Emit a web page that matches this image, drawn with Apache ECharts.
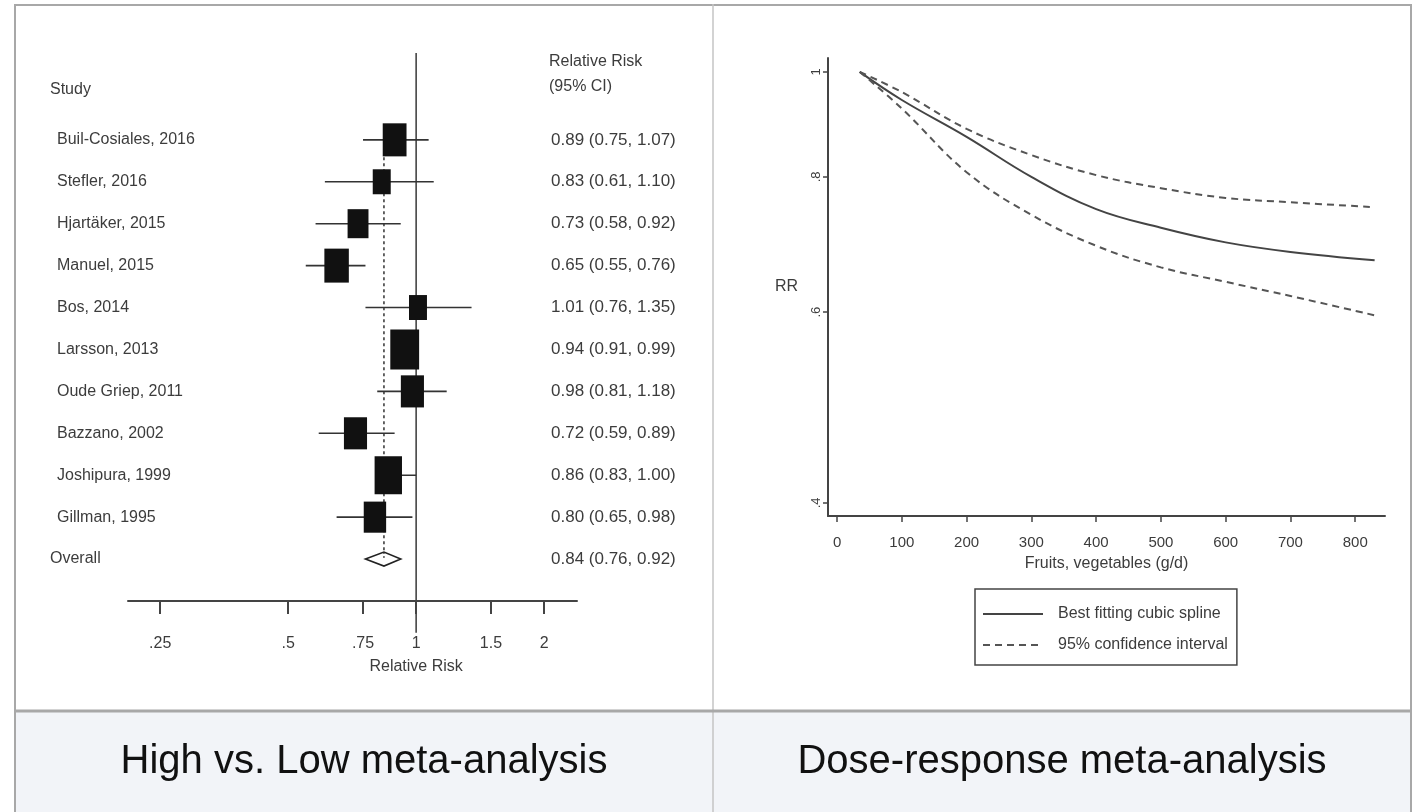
<!DOCTYPE html>
<html>
<head>
<meta charset="utf-8">
<title>Fruit and vegetable intake: high vs. low and dose-response</title>
<script src="https://cdn.jsdelivr.net/npm/echarts@6.0.0/dist/echarts.min.js"></script>
<style>
html, body { margin: 0; padding: 0; background: #fff; }
#main { width: 1420px; height: 812px; }
</style>
</head>
<body>
<div id="main"></div>
<script>
// ---- left panel: forest plot, high vs. low ----
var studies = ["Buil-Cosiales, 2016", "Stefler, 2016", "Hjartäker, 2015", "Manuel, 2015", "Bos, 2014",
  "Larsson, 2013", "Oude Griep, 2011", "Bazzano, 2002", "Joshipura, 1999", "Gillman, 1995"];
var rr      = [0.89, 0.83, 0.73, 0.65, 1.01, 0.94, 0.98, 0.72, 0.86, 0.80];
var ciLow   = [0.75, 0.61, 0.58, 0.55, 0.76, 0.91, 0.81, 0.59, 0.83, 0.65];
var ciHigh  = [1.07, 1.10, 0.92, 0.76, 1.35, 0.99, 1.18, 0.89, 1.00, 0.98];
var weights = [10.5, 6.0, 8.1, 11.1, 6.0, 15.4, 9.9, 9.9, 13.9, 9.3];   // % weight, drives box area
var overall = [0.84, 0.76, 0.92];
var rrTicks = [0.25, 0.5, 0.75, 1, 1.5, 2];
var rrTickLabels = [".25", ".5", ".75", "1", "1.5", "2"];

// ---- right panel: dose-response ----
var intake    = [35, 100, 200, 300, 400, 500, 600, 700, 830];
var rrSpline  = [1.0, 0.942, 0.871, 0.800, 0.747, 0.718, 0.696, 0.682, 0.670];
var rrUpper   = [1.0, 0.958, 0.886, 0.838, 0.803, 0.781, 0.765, 0.758, 0.750];
var rrLower   = [1.0, 0.925, 0.808, 0.738, 0.691, 0.660, 0.640, 0.621, 0.596];
var intakeTicks = [0, 100, 200, 300, 400, 500, 600, 700, 800];
var rrAxisTicks = [0.4, 0.6, 0.8, 1];
var rrAxisLabels = [".4", ".6", ".8", "1"];

var captions = ["High vs. Low meta-analysis", "Dose-response meta-analysis"];

var FONT = '"Liberation Sans", Arial, Helvetica, sans-serif';
var INK = '#3c3c3c';

function fmt(v) { return v.toFixed(2); }
function nearestLabel(val, ticks, labels) {
  var best = 0;
  for (var i = 1; i < ticks.length; i++) {
    if (Math.abs(Math.log(ticks[i]) - val) < Math.abs(Math.log(ticks[best]) - val)) best = i;
  }
  return labels[best];
}

var forestData = rr.map(function (v, i) {
  return [Math.log(v), Math.log(ciLow[i]), Math.log(ciHigh[i]), weights[i], i];
});
var overallRow = studies.length;

function textEl(txt, x, y, size, align) {
  return {
    type: 'text',
    style: { text: txt, x: x, y: y, fill: INK, font: size + 'px ' + FONT, align: align || 'left', verticalAlign: 'middle' }
  };
}

var chart = echarts.init(document.getElementById('main'));

chart.setOption({
  animation: false,
  grid: [
    { left: 128, top: 56, width: 449, height: 545 },
    { left: 828, top: 58, width: 557, height: 458 }
  ],
  xAxis: [
    {
      gridIndex: 0, type: 'value', position: 'bottom', min: Math.log(0.21), max: Math.log(2.39),
      axisLine: { onZero: false, lineStyle: { color: '#444', width: 2 } },
      axisTick: { customValues: rrTicks.map(Math.log), length: 13, lineStyle: { color: '#444', width: 2 } },
      axisLabel: {
        customValues: rrTicks.map(Math.log), margin: 35, color: INK, fontSize: 16, fontFamily: FONT,
        formatter: function (v) { return nearestLabel(v, rrTicks, rrTickLabels); }
      },
      splitLine: { show: false }
    },
    {
      gridIndex: 1, type: 'value', position: 'bottom', min: -14, max: 846,
      name: 'Fruits, vegetables (g/d)', nameLocation: 'middle', nameGap: 40,
      nameTextStyle: { color: INK, fontSize: 16, fontFamily: FONT },
      axisLine: { onZero: false, lineStyle: { color: '#444', width: 2 } },
      axisTick: { customValues: intakeTicks, length: 6, lineStyle: { color: '#444', width: 1.5 } },
      axisLabel: { customValues: intakeTicks, margin: 19, color: INK, fontSize: 15, fontFamily: FONT },
      splitLine: { show: false }
    }
  ],
  yAxis: [
    { gridIndex: 0, type: 'value', min: -2, max: 11, inverse: true, show: false },
    {
      gridIndex: 1, type: 'value', position: 'left', min: Math.log(0.389), max: Math.log(1.03),
      name: 'RR', nameLocation: 'middle', nameRotate: 0, nameGap: 30,
      nameTextStyle: { color: INK, fontSize: 16, fontFamily: FONT },
      axisLine: { show: true, onZero: false, lineStyle: { color: '#444', width: 2 } },
      axisTick: { show: true, customValues: rrAxisTicks.map(Math.log), length: 5, lineStyle: { color: '#444', width: 1.5 } },
      axisLabel: {
        customValues: rrAxisTicks.map(Math.log), rotate: 90, margin: 5, color: INK, fontSize: 13, fontFamily: FONT,
        formatter: function (v) { return nearestLabel(v, rrAxisTicks, rrAxisLabels); }
      },
      splitLine: { show: false }
    }
  ],
  legend: {
    orient: 'vertical', left: 975, top: 589,
    data: ['Best fitting cubic spline', '95% confidence interval'],
    itemWidth: 60, itemHeight: 20, itemGap: 15,
    padding: [17, 9, 12, 7],
    borderColor: '#444', borderWidth: 1.5,
    itemStyle: { opacity: 0 },
    textStyle: { color: INK, fontSize: 16, fontFamily: FONT, padding: [0, 0, 0, 10] }
  },
  series: [
    {
      // reference line at RR = 1, dashed overall line, x axis title
      type: 'custom', xAxisIndex: 0, yAxisIndex: 0, z: 1,
      data: [[0, Math.log(overall[0])]],
      renderItem: function (params, api) {
        var t = api.coord([api.value(0), -2.07]);
        var b = api.coord([api.value(0), 11.76]);
        var dt = api.coord([api.value(1), -0.3]);
        var db = api.coord([api.value(1), overallRow - 0.2]);
        var nm = api.coord([api.value(0), 12.57]);
        return {
          type: 'group', children: [
            { type: 'line', shape: { x1: t[0], y1: t[1], x2: b[0], y2: b[1] }, style: { stroke: '#444', lineWidth: 1.6 } },
            { type: 'line', shape: { x1: dt[0], y1: dt[1], x2: db[0], y2: db[1] }, style: { stroke: '#333', lineWidth: 1.5, lineDash: [3, 3] } },
            textEl('Relative Risk', nm[0], nm[1], 16, 'center')
          ]
        };
      }
    },
    {
      // study estimates: CI line + weighted box
      type: 'custom', xAxisIndex: 0, yAxisIndex: 0, z: 3,
      data: forestData,
      encode: { x: [0, 1, 2], y: 4 },
      renderItem: function (params, api) {
        var row = api.value(4);
        var c = api.coord([api.value(0), row]);
        var a = api.coord([api.value(1), row]);
        var b = api.coord([api.value(2), row]);
        var h = Math.sqrt(api.value(3)) * 10.2;
        var w = h * 0.72;
        return {
          type: 'group', children: [
            { type: 'line', shape: { x1: a[0], y1: a[1], x2: b[0], y2: b[1] }, style: { stroke: '#333', lineWidth: 1.6 } },
            { type: 'rect', shape: { x: c[0] - w / 2, y: c[1] - h / 2, width: w, height: h }, style: { fill: '#111' } }
          ]
        };
      }
    },
    {
      // overall diamond
      type: 'custom', xAxisIndex: 0, yAxisIndex: 0, z: 4,
      data: [[Math.log(overall[0]), Math.log(overall[1]), Math.log(overall[2]), overallRow]],
      renderItem: function (params, api) {
        var row = api.value(3);
        var c = api.coord([api.value(0), row]);
        var l = api.coord([api.value(1), row]);
        var r = api.coord([api.value(2), row]);
        var hh = 7;
        return {
          type: 'group', children: [
            { type: 'polygon', shape: { points: [[l[0], c[1]], [c[0], c[1] - hh], [r[0], c[1]], [c[0], c[1] + hh]] },
              style: { fill: '#fff', stroke: '#222', lineWidth: 1.6 } },
            { type: 'line', shape: { x1: c[0], y1: c[1] - hh, x2: c[0], y2: c[1] }, style: { stroke: '#333', lineWidth: 1.2, lineDash: [2, 2] } }
          ]
        };
      }
    },
    {
      // text columns: study names and RR (95% CI)
      type: 'custom', xAxisIndex: 0, yAxisIndex: 0, z: 5,
      data: studies.map(function (s, i) { return [0, i]; }).concat([[0, overallRow]]),
      renderItem: function (params, api) {
        var i = params.dataIndex;
        var y = api.coord([0, api.value(1)])[1];
        var kids = [];
        if (i === 0) {
          kids.push(textEl('Study', 50, api.coord([0, -1.19])[1], 16));
          kids.push(textEl('Relative Risk', 549, api.coord([0, -1.86])[1], 16));
          kids.push(textEl('(95% CI)', 549, api.coord([0, -1.26])[1], 16));
        }
        if (i < studies.length) {
          kids.push(textEl(studies[i], 57, y, 16));
          kids.push(textEl(fmt(rr[i]) + ' (' + fmt(ciLow[i]) + ', ' + fmt(ciHigh[i]) + ')', 551, y, 17));
        } else {
          kids.push(textEl('Overall', 50, y, 16));
          kids.push(textEl(fmt(overall[0]) + ' (' + fmt(overall[1]) + ', ' + fmt(overall[2]) + ')', 551, y, 17));
        }
        return { type: 'group', children: kids };
      }
    },
    {
      name: 'Best fitting cubic spline', type: 'line', xAxisIndex: 1, yAxisIndex: 1,
      symbol: 'none', smooth: 0.4,
      lineStyle: { color: '#444', width: 2, type: 'solid' },
      itemStyle: { color: '#444' },
      data: intake.map(function (v, i) { return [v, Math.log(rrSpline[i])]; })
    },
    {
      name: '95% confidence interval', type: 'line', xAxisIndex: 1, yAxisIndex: 1,
      symbol: 'none', smooth: 0.4,
      lineStyle: { color: '#555', width: 2, type: [7, 5] },
      itemStyle: { color: '#555' },
      data: intake.map(function (v, i) { return [v, Math.log(rrUpper[i])]; })
    },
    {
      name: '95% confidence interval', type: 'line', xAxisIndex: 1, yAxisIndex: 1,
      symbol: 'none', smooth: 0.4,
      lineStyle: { color: '#555', width: 2, type: [7, 5] },
      itemStyle: { color: '#555' },
      data: intake.map(function (v, i) { return [v, Math.log(rrLower[i])]; })
    }
  ],
  graphic: [
    { type: 'rect', z: -10, shape: { x: 15, y: 711, width: 1396, height: 101 }, style: { fill: '#f2f4f8' } },
    { type: 'line', z: 10, shape: { x1: 14, y1: 5, x2: 1412, y2: 5 }, style: { stroke: '#a8a8a8', lineWidth: 2 } },
    { type: 'line', z: 10, shape: { x1: 15, y1: 4, x2: 15, y2: 812 }, style: { stroke: '#a8a8a8', lineWidth: 2 } },
    { type: 'line', z: 10, shape: { x1: 1411, y1: 4, x2: 1411, y2: 812 }, style: { stroke: '#a8a8a8', lineWidth: 2 } },
    { type: 'line', z: 10, shape: { x1: 713, y1: 4, x2: 713, y2: 812 }, style: { stroke: '#c4c4c4', lineWidth: 1.5 } },
    { type: 'line', z: 10, shape: { x1: 15, y1: 711, x2: 1411, y2: 711 }, style: { stroke: '#a8a8a8', lineWidth: 3 } },
    { type: 'text', z: 11, style: { text: captions[0], x: 364, y: 762, fill: '#111', font: '40px ' + FONT, align: 'center', verticalAlign: 'middle' } },
    { type: 'text', z: 11, style: { text: captions[1], x: 1062, y: 762, fill: '#111', font: '40px ' + FONT, align: 'center', verticalAlign: 'middle' } }
  ]
});
</script>
</body>
</html>
